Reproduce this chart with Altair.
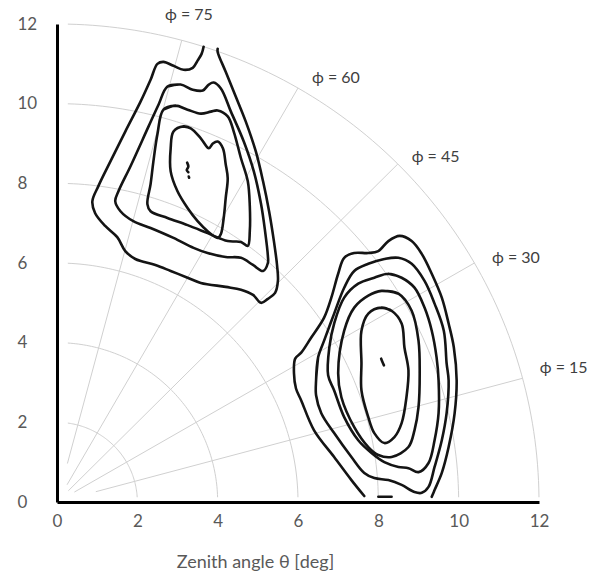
import altair as alt
import numpy as np
import pandas as pd

# ---- grid definition (polar guide in the theta_x / theta_y plane) ----
ARC_RADII = [2, 4, 6, 8, 10, 12]
SPOKE_ANGLES = [15, 30, 45, 60, 75]
SPOKE_START = [1.0, 0.5, 0.4, 0.5, 1.0]
SPOKE_END = 12

PHI_TEXT = ["\u03d5 = 15", "\u03d5 = 30", "\u03d5 = 45", "\u03d5 = 60", "\u03d5 = 75"]
PHI_X = [12.02, 10.83, 8.83, 6.35, 2.69]
PHI_Y = [3.37, 6.13, 8.66, 10.64, 12.23]

TICKS = [0, 2, 4, 6, 8, 10, 12]

# ---- contour lines, lobe A (upper left) ----
A1 = [(3.65, 11.43), (3.6, 11.25), (3.5, 11.08), (3.38, 10.9), (3.15, 10.85),
      (2.9, 10.95), (2.65, 11.05), (2.5, 11.0), (2.33, 10.6), (2.08, 10.05),
      (1.7, 9.3), (1.33, 8.55), (1.03, 7.93), (0.88, 7.55), (0.95, 7.25),
      (1.2, 6.93), (1.5, 6.65), (1.7, 6.3), (1.95, 6.1), (2.45, 5.95),
      (2.83, 5.8), (3.25, 5.63), (3.58, 5.5), (4.2, 5.4), (4.58, 5.33),
      (4.88, 5.2), (5.08, 5.0), (5.25, 5.1), (5.43, 5.25), (5.5, 5.55),
      (5.48, 5.93), (5.4, 6.55), (5.28, 7.3), (5.13, 8.05), (4.95, 8.8),
      (4.7, 9.55), (4.45, 10.18), (4.2, 10.8), (4.0, 11.3), (4.0, 11.38)]
A2 = [(2.75, 10.43), (3.08, 10.48), (3.38, 10.35), (3.63, 10.33), (3.78, 10.48),
      (3.9, 10.53), (4.08, 10.38), (4.33, 9.8), (4.65, 9.05), (4.9, 8.3),
      (5.08, 7.48), (5.18, 6.8), (5.25, 6.18), (5.25, 6.0), (5.13, 5.8),
      (4.88, 5.95), (4.58, 6.13), (4.2, 6.15), (3.75, 6.25), (3.4, 6.38),
      (2.9, 6.63), (2.33, 6.88), (1.9, 7.05), (1.58, 7.3), (1.45, 7.55),
      (1.53, 7.8), (1.83, 8.43), (2.28, 9.43), (2.53, 9.98)]
A3 = [(2.65, 9.85), (2.95, 9.95), (3.25, 9.85), (3.58, 9.75), (3.83, 9.8),
      (4.0, 9.83), (4.25, 9.68), (4.4, 9.3), (4.58, 8.63), (4.75, 8.05),
      (4.8, 7.43), (4.8, 6.8), (4.75, 6.43), (4.58, 6.53), (4.25, 6.55),
      (3.75, 6.75), (3.25, 6.95), (2.75, 7.13), (2.33, 7.3), (2.25, 7.48),
      (2.33, 7.98), (2.4, 8.55), (2.5, 9.23)]
A4 = [(3.15, 9.43), (3.33, 9.38), (3.58, 9.13), (3.78, 8.88), (3.88, 9.0),
      (4.0, 9.05), (4.13, 8.88), (4.2, 8.48), (4.25, 8.13), (4.2, 7.63),
      (4.15, 7.13), (4.08, 6.73), (4.0, 6.63), (3.75, 6.8), (3.5, 7.05),
      (3.25, 7.38), (3.0, 7.8), (2.83, 8.3), (2.83, 8.88), (2.9, 9.3)]
A_PEAK = [(3.24, 8.52), (3.27, 8.42), (3.23, 8.33), (3.27, 8.28)]
A_DOT = [(3.28, 8.17), (3.29, 8.14)]

# ---- contour lines, lobe B (lower right) ----
B1 = [(7.65, 0.15), (7.33, 0.55), (6.9, 1.13), (6.4, 1.8), (6.08, 2.55),
      (5.95, 2.85), (5.9, 3.23), (5.93, 3.6), (6.08, 3.75), (6.33, 4.13),
      (6.65, 4.63), (6.83, 5.13), (7.0, 5.73), (7.15, 6.13), (7.4, 6.25),
      (7.75, 6.25), (8.0, 6.3), (8.25, 6.55), (8.53, 6.68), (8.83, 6.55),
      (9.08, 6.23), (9.33, 5.73), (9.58, 5.13), (9.75, 4.48), (9.88, 3.88),
      (9.95, 3.05), (9.9, 2.23), (9.75, 1.38), (9.58, 0.73), (9.4, 0.3),
      (9.33, 0.13)]
B1_FOOT = [(8.0, 0.13), (8.33, 0.13)]
B2 = [(6.45, 3.05), (6.5, 3.63), (6.65, 4.05), (6.9, 4.73), (7.15, 5.38),
      (7.4, 5.8), (7.75, 5.98), (8.15, 6.1), (8.5, 6.13), (8.83, 5.98),
      (9.15, 5.55), (9.4, 4.98), (9.63, 4.3), (9.7, 3.48), (9.75, 3.05),
      (9.7, 2.23), (9.58, 1.55), (9.4, 0.88), (9.25, 0.38), (9.08, 0.23),
      (8.9, 0.25), (8.58, 0.43), (8.25, 0.55), (7.9, 0.6), (7.65, 0.73),
      (7.33, 1.13), (6.9, 1.73), (6.58, 2.23), (6.45, 2.68)]
B3 = [(8.25, 5.73), (8.58, 5.63), (8.9, 5.38), (9.15, 4.88), (9.33, 4.3),
      (9.45, 3.63), (9.5, 3.05), (9.5, 2.23), (9.4, 1.55), (9.25, 0.98),
      (9.0, 0.75), (8.75, 0.85), (8.5, 0.88), (8.15, 1.0), (7.83, 1.23),
      (7.5, 1.55), (7.15, 2.13), (6.9, 2.8), (6.75, 3.18), (6.78, 3.88),
      (6.9, 4.48), (7.15, 5.13), (7.5, 5.48), (7.9, 5.63)]
B4 = [(8.08, 5.3), (8.5, 5.23), (8.83, 4.8), (9.0, 4.05), (9.03, 3.23),
      (9.0, 2.38), (8.9, 1.8), (8.75, 1.38), (8.33, 1.13), (8.0, 1.18),
      (7.75, 1.38), (7.4, 1.88), (7.08, 2.63), (7.0, 3.23), (7.15, 4.3),
      (7.4, 4.88), (7.75, 5.18)]
B5 = [(8.08, 4.88), (8.33, 4.8), (8.58, 4.48), (8.65, 3.88), (8.75, 3.3),
      (8.7, 2.63), (8.58, 1.98), (8.4, 1.63), (8.15, 1.48), (7.9, 1.73),
      (7.75, 2.13), (7.58, 2.8), (7.58, 3.48), (7.58, 4.3), (7.75, 4.73)]
B_PEAK = [(8.07, 3.6), (8.1, 3.52), (8.14, 3.43)]

CLOSED = {"A2": A2, "A3": A3, "A4": A4, "B2": B2, "B3": B3, "B4": B4, "B5": B5}
OPEN = {"A1": A1, "A_PEAK": A_PEAK, "A_DOT": A_DOT, "B1": B1,
        "B1_FOOT": B1_FOOT, "B_PEAK": B_PEAK}

# ---- tables ----
rows = []
for name, pts in list(CLOSED.items()) + list(OPEN.items()):
    # closed loops repeat their first two vertices so the spline closes smoothly
    seq = pts + [pts[0], pts[1]] if name in CLOSED else pts
    for i, (x, y) in enumerate(seq):
        rows.append({"c": name, "i": i, "x": x, "y": y})
contour_df = pd.DataFrame(rows)

grid_rows = []
for r in ARC_RADII:
    a0 = np.arcsin(0.12 / r)
    a1 = np.arccos(0.27 / r)
    for i, a in enumerate(np.linspace(a0, a1, 90)):
        grid_rows.append({"g": f"arc{r}", "i": i, "x": r * np.cos(a), "y": r * np.sin(a)})
for ang, r0 in zip(SPOKE_ANGLES, SPOKE_START):
    t = np.radians(ang)
    for i, r in enumerate([r0, SPOKE_END]):
        grid_rows.append({"g": f"spoke{ang}", "i": i, "x": r * np.cos(t), "y": r * np.sin(t)})
grid_df = pd.DataFrame(grid_rows)

label_df = pd.DataFrame({"t": PHI_TEXT, "x": PHI_X, "y": PHI_Y})

# ---- encodings ----
FONT = "Lato"
GREY = "#595959"
xs = alt.Scale(domain=[0, 12], nice=False, zero=False)
ys = alt.Scale(domain=[0, 12], nice=False, zero=False)

x_axis = alt.Axis(values=TICKS, ticks=False, grid=False, domainColor="#000000",
                  domainWidth=3, labelColor=GREY, labelFont=FONT, labelFontSize=17,
                  labelPadding=11, labelFlush=False, labelOverlap=False,
                  title="Zenith angle \u03b8 [deg]", titleFont=FONT, titleFontSize=18,
                  titleFontWeight="normal", titleColor=GREY, titleX=198, titleY=65,
                  titleAlign="center", titleBaseline="alphabetic")
y_axis = alt.Axis(values=TICKS, ticks=False, grid=False, domainColor="#000000",
                  domainWidth=3, labelColor=GREY, labelFont=FONT, labelFontSize=17,
                  labelAlign="left", labelBaseline="middle", labelPadding=40,
                  labelFlush=False, labelOverlap=False, title=None)

X = alt.X("x:Q", scale=xs, axis=x_axis)
Y = alt.Y("y:Q", scale=ys, axis=y_axis)

grid = alt.Chart(grid_df).mark_line(color="#d0d0d0", strokeWidth=1).encode(
    x=X, y=Y, detail="g:N", order="i:Q")

contours = alt.Chart(contour_df).mark_line(
    color="#141414", strokeWidth=2.6, strokeJoin="round", strokeCap="round",
    interpolate="catmull-rom"
).encode(x=X, y=Y, detail="c:N", order="i:Q")

labels = alt.Chart(label_df).mark_text(
    align="left", baseline="middle", font=FONT, fontSize=16, color="#404040"
).encode(x=X, y=Y, text="t:N")

chart = alt.layer(grid, contours, labels).properties(
    width=482, height=478,
    padding={"left": 57, "top": 24, "right": 63, "bottom": 75},
    autosize=alt.AutoSizeParams(type="none"),
    background="white",
).configure_view(strokeWidth=0)

chart.save("out.html", embed_options={"renderer": "svg", "actions": False})
